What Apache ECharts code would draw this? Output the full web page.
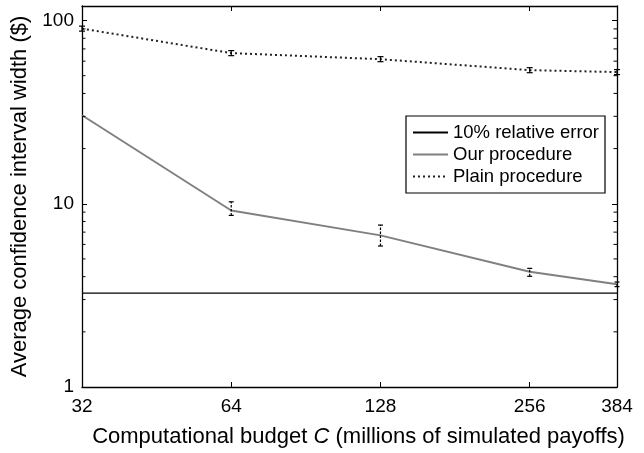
<!DOCTYPE html>
<html>
<head>
<meta charset="utf-8">
<script src="https://cdn.jsdelivr.net/npm/echarts@6/dist/echarts.min.js"></script>
<style>
  html, body { margin: 0; padding: 0; background: #fff; }
  #chart { width: 644px; height: 453px; }
</style>
</head>
<body>
<div id="chart"></div>
<script>
// Computational budget C (millions of simulated payoffs)
const budgets = [32, 64, 128, 256, 384];
const xTickLabels = [32, 64, 128, 256, 384];
const yTickLabels = [1, 10, 100];
const yMinorTicks = [2, 3, 4, 5, 6, 7, 8, 9, 20, 30, 40, 50, 60, 70, 80, 90];

// Average confidence interval width ($) with error bar ends (null: no bar)
const ourWidth = [30.4, 9.19, 6.72, 4.26, 3.64];
const ourLow = [null, 8.64, 5.88, 4.02, 3.53];
const ourHigh = [null, 10.25, 7.65, 4.44, 3.74];
const plainWidth = [90.3, 66.4, 61.5, 53.6, 52.3];
const plainLow = [87.5, 64.3, 59.6, 51.9, 50.7];
const plainHigh = [93.2, 68.5, 63.5, 55.3, 54.0];

// 10% relative error reference level
const relErrorBudget = [32, 384];
const relErrorLevel = [3.25, 3.25];

const FONT = 'Liberation Sans, Arial, Helvetica, sans-serif';

function pairs(xs, ys) { return xs.map((x, i) => [x, ys[i]]); }
function triples(xs, lo, hi) { return xs.map((x, i) => [x, lo[i], hi[i]]); }

function errorBars(halfCap, dash) {
  return function (params, api) {
    const x = api.value(0);
    const lo = api.value(1), hi = api.value(2);
    if (isNaN(lo) || isNaN(hi)) return null;
    const pLo = api.coord([x, lo]);
    const pHi = api.coord([x, hi]);
    const stem = { stroke: '#000', lineWidth: 1.2, lineDash: dash };
    const cap = { stroke: '#000', lineWidth: 1.2 };
    return {
      type: 'group',
      children: [
        { type: 'line', shape: { x1: pLo[0], y1: pLo[1], x2: pHi[0], y2: pHi[1] }, style: stem },
        { type: 'line', shape: { x1: pLo[0] - halfCap, y1: pLo[1], x2: pLo[0] + halfCap, y2: pLo[1] }, style: cap },
        { type: 'line', shape: { x1: pHi[0] - halfCap, y1: pHi[1], x2: pHi[0] + halfCap, y2: pHi[1] }, style: cap }
      ]
    };
  };
}

// inward minor ticks on both vertical frame sides of the log axis
function minorTicks(params, api) {
  const cs = params.coordSys;
  const y = api.coord([budgets[0], api.value(1)])[1];
  const style = { stroke: '#000', lineWidth: 1 };
  return {
    type: 'group',
    children: [
      { type: 'line', shape: { x1: cs.x, y1: y, x2: cs.x + 3.5, y2: y }, style },
      { type: 'line', shape: { x1: cs.x + cs.width - 3.5, y1: y, x2: cs.x + cs.width, y2: y }, style }
    ]
  };
}

const axisLineStyle = { lineStyle: { color: '#000', width: 1.3 } };
const tickStyle = { inside: true, length: 5, lineStyle: { color: '#000', width: 1 } };
const labelStyle = { color: '#000', fontSize: 19, fontFamily: FONT };

const chart = echarts.init(document.getElementById('chart'), null, { renderer: 'canvas' });

chart.setOption({
  animation: false,
  backgroundColor: '#fff',
  grid: { left: 82, right: 27, top: 6, bottom: 66, containLabel: false },
  xAxis: [
    {
      type: 'log', logBase: 2, min: 32, max: 384, position: 'bottom',
      axisLine: axisLineStyle, axisTick: tickStyle, splitLine: { show: false }, minorTick: { show: false },
      axisLabel: Object.assign({}, labelStyle, {
        margin: 10, showMinLabel: true, showMaxLabel: true,
        formatter: v => {
          const hit = xTickLabels.find(t => Math.abs(t - v) < 0.5);
          return hit === undefined ? '' : String(hit);
        }
      }),
      name: 'Computational budget {i|C} (millions of simulated payoffs)',
      nameLocation: 'middle', nameGap: 39,
      nameTextStyle: {
        color: '#000', fontSize: 22, fontFamily: FONT, padding: [0, 0, 0, 18],
        rich: { i: { fontStyle: 'italic', fontSize: 22, fontFamily: FONT, color: '#000' } }
      }
    },
    {
      type: 'log', logBase: 2, min: 32, max: 384, position: 'top',
      axisLine: axisLineStyle, axisTick: tickStyle, splitLine: { show: false },
      axisLabel: { show: false }
    }
  ],
  yAxis: [
    {
      type: 'log', logBase: 10, min: 1, max: 120, position: 'left',
      axisLine: axisLineStyle, axisTick: tickStyle, splitLine: { show: false },
      axisLabel: Object.assign({}, labelStyle, {
        margin: 8, showMaxLabel: false,
        formatter: v => {
          const hit = yTickLabels.find(t => Math.abs(t - v) < 1e-6 * t);
          return hit === undefined ? '' : String(hit);
        }
      }),
      name: 'Average confidence interval width ($)',
      nameLocation: 'middle', nameGap: 40,
      nameTextStyle: { color: '#000', fontSize: 22, fontFamily: FONT }
    },
    {
      type: 'log', logBase: 10, min: 1, max: 120, position: 'right',
      axisLine: axisLineStyle, axisTick: tickStyle, splitLine: { show: false },
      axisLabel: { show: false }
    }
  ],
  legend: {
    orient: 'vertical', left: 406, top: 116,
    padding: [7, 6, 7, 6], itemGap: 3, itemWidth: 35, itemHeight: 14,
    backgroundColor: '#fff', borderColor: '#000', borderWidth: 1.2, borderRadius: 0,
    itemStyle: { opacity: 0 },
    data: ['10% relative error', 'Our procedure', 'Plain procedure'],
    textStyle: { color: '#000', fontSize: 18.5, fontFamily: FONT }
  },
  series: [
    {
      name: '10% relative error', type: 'line', symbol: 'none',
      data: pairs(relErrorBudget, relErrorLevel),
      lineStyle: { color: '#000', width: 1.2 }, itemStyle: { color: '#000', opacity: 0 }
    },
    {
      name: 'Our procedure', type: 'line', symbol: 'none',
      data: pairs(budgets, ourWidth),
      lineStyle: { color: '#808080', width: 2 }, itemStyle: { color: '#808080', opacity: 0 }
    },
    {
      name: 'Plain procedure', type: 'line', symbol: 'none',
      data: pairs(budgets, plainWidth),
      lineStyle: { color: '#222', width: 2, type: [2, 3] }, itemStyle: { color: '#222', opacity: 0 }
    },
    {
      type: 'custom', silent: true, z: 5,
      renderItem: errorBars(2.5, [2.5, 1.5]),
      data: triples(budgets, ourLow, ourHigh)
    },
    {
      type: 'custom', silent: true, z: 5,
      renderItem: errorBars(3, null),
      data: triples(budgets, plainLow, plainHigh)
    },
    {
      type: 'custom', silent: true, z: 4,
      renderItem: minorTicks,
      data: yMinorTicks.map(v => [budgets[0], v])
    }
  ]
});
</script>
</body>
</html>
